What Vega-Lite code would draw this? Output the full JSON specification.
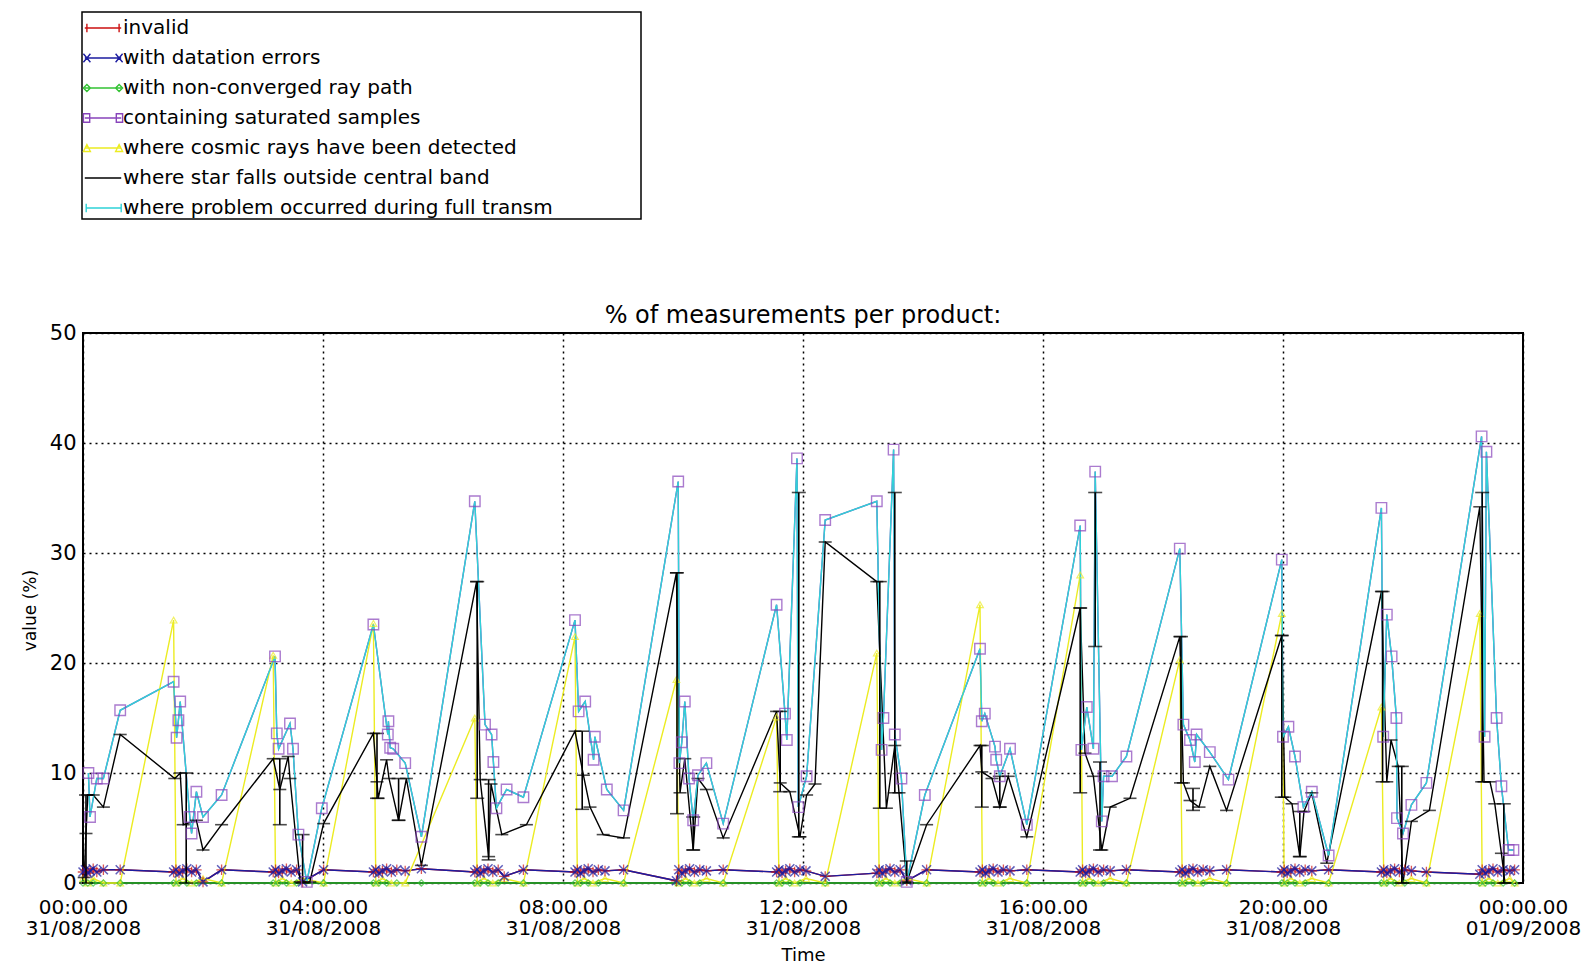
{
"$schema": "https://vega.github.io/schema/vega-lite/v6.json",
"width": 1440, "height": 550,
"autosize": {"type": "none"},
"padding": {"left": 83, "top": 333, "right": 71, "bottom": 84},
"background": "white",
"config": {"view": {"stroke": "black", "strokeWidth": 2}, "font": "DejaVu Sans"},
"title": {"text": "% of measurements per product:", "fontSize": 24, "fontWeight": "normal", "font": "DejaVu Sans", "color": "black", "offset": 8, "anchor": "middle", "frame": "group", "dy": 325},
"datasets": {
"main": [
{"s":"inv","t":0.00,"v":1.0},{"s":"inv","t":0.04,"v":1.2},{"s":"inv","t":0.08,"v":0.9},{"s":"inv","t":0.12,"v":1.1},{"s":"inv","t":0.17,"v":1.3},{"s":"inv","t":0.23,"v":1.0},{"s":"inv","t":0.34,"v":1.2},{"s":"inv","t":0.62,"v":1.2},
{"s":"inv","t":1.51,"v":1.0},{"s":"inv","t":1.55,"v":1.2},{"s":"inv","t":1.60,"v":0.9},{"s":"inv","t":1.66,"v":1.1},{"s":"inv","t":1.73,"v":1.3},{"s":"inv","t":1.81,"v":1.0},{"s":"inv","t":1.89,"v":1.2},{"s":"inv","t":2.00,"v":0.1},{"s":"inv","t":2.31,"v":1.2},
{"s":"inv","t":3.17,"v":1.0},{"s":"inv","t":3.21,"v":1.2},{"s":"inv","t":3.26,"v":0.9},{"s":"inv","t":3.32,"v":1.1},{"s":"inv","t":3.39,"v":1.3},{"s":"inv","t":3.47,"v":1.0},{"s":"inv","t":3.56,"v":1.2},{"s":"inv","t":3.66,"v":0.1},{"s":"inv","t":4.01,"v":1.2},
{"s":"inv","t":4.84,"v":1.0},{"s":"inv","t":4.88,"v":1.2},{"s":"inv","t":4.93,"v":0.9},{"s":"inv","t":4.99,"v":1.1},{"s":"inv","t":5.06,"v":1.3},{"s":"inv","t":5.14,"v":1.0},{"s":"inv","t":5.23,"v":1.2},{"s":"inv","t":5.37,"v":1.1},{"s":"inv","t":5.64,"v":1.3},
{"s":"inv","t":6.53,"v":1.0},{"s":"inv","t":6.57,"v":1.2},{"s":"inv","t":6.62,"v":0.9},{"s":"inv","t":6.68,"v":1.1},{"s":"inv","t":6.75,"v":1.3},{"s":"inv","t":6.83,"v":1.0},{"s":"inv","t":6.92,"v":1.2},{"s":"inv","t":7.02,"v":0.6},{"s":"inv","t":7.34,"v":1.2},
{"s":"inv","t":8.20,"v":1.0},{"s":"inv","t":8.24,"v":1.2},{"s":"inv","t":8.29,"v":0.9},{"s":"inv","t":8.35,"v":1.1},{"s":"inv","t":8.42,"v":1.3},{"s":"inv","t":8.50,"v":1.0},{"s":"inv","t":8.59,"v":1.2},{"s":"inv","t":8.70,"v":1.1},{"s":"inv","t":9.01,"v":1.2},
{"s":"inv","t":9.89,"v":0.2},{"s":"inv","t":9.93,"v":1.2},{"s":"inv","t":9.98,"v":0.9},{"s":"inv","t":10.04,"v":1.1},{"s":"inv","t":10.11,"v":1.3},{"s":"inv","t":10.19,"v":1.0},{"s":"inv","t":10.28,"v":1.2},{"s":"inv","t":10.39,"v":1.1},{"s":"inv","t":10.67,"v":1.2},
{"s":"inv","t":11.56,"v":1.0},{"s":"inv","t":11.60,"v":1.2},{"s":"inv","t":11.65,"v":0.9},{"s":"inv","t":11.71,"v":1.1},{"s":"inv","t":11.78,"v":1.3},{"s":"inv","t":11.86,"v":1.0},{"s":"inv","t":11.95,"v":1.2},{"s":"inv","t":12.05,"v":1.1},{"s":"inv","t":12.37,"v":0.6},
{"s":"inv","t":13.23,"v":0.9},{"s":"inv","t":13.27,"v":1.2},{"s":"inv","t":13.32,"v":0.9},{"s":"inv","t":13.38,"v":1.1},{"s":"inv","t":13.45,"v":1.3},{"s":"inv","t":13.53,"v":1.0},{"s":"inv","t":13.62,"v":1.2},{"s":"inv","t":13.73,"v":0.2},{"s":"inv","t":14.06,"v":1.2},
{"s":"inv","t":14.95,"v":1.0},{"s":"inv","t":14.99,"v":1.2},{"s":"inv","t":15.04,"v":0.9},{"s":"inv","t":15.10,"v":1.1},{"s":"inv","t":15.17,"v":1.3},{"s":"inv","t":15.25,"v":1.0},{"s":"inv","t":15.34,"v":1.2},{"s":"inv","t":15.45,"v":1.1},{"s":"inv","t":15.73,"v":1.2},
{"s":"inv","t":16.62,"v":1.0},{"s":"inv","t":16.66,"v":1.2},{"s":"inv","t":16.71,"v":0.9},{"s":"inv","t":16.77,"v":1.1},{"s":"inv","t":16.84,"v":1.3},{"s":"inv","t":16.92,"v":1.0},{"s":"inv","t":17.01,"v":1.2},{"s":"inv","t":17.12,"v":1.1},{"s":"inv","t":17.39,"v":1.2},
{"s":"inv","t":18.28,"v":1.0},{"s":"inv","t":18.32,"v":1.2},{"s":"inv","t":18.37,"v":0.9},{"s":"inv","t":18.43,"v":1.1},{"s":"inv","t":18.50,"v":1.3},{"s":"inv","t":18.58,"v":1.0},{"s":"inv","t":18.67,"v":1.2},{"s":"inv","t":18.78,"v":1.1},{"s":"inv","t":19.06,"v":1.2},
{"s":"inv","t":19.98,"v":1.0},{"s":"inv","t":20.02,"v":1.2},{"s":"inv","t":20.07,"v":0.9},{"s":"inv","t":20.13,"v":1.1},{"s":"inv","t":20.20,"v":1.3},{"s":"inv","t":20.28,"v":1.0},{"s":"inv","t":20.37,"v":1.2},{"s":"inv","t":20.48,"v":1.1},{"s":"inv","t":20.76,"v":1.2},
{"s":"inv","t":21.64,"v":1.0},{"s":"inv","t":21.68,"v":1.2},{"s":"inv","t":21.73,"v":0.9},{"s":"inv","t":21.79,"v":1.1},{"s":"inv","t":21.86,"v":1.3},{"s":"inv","t":21.94,"v":1.0},{"s":"inv","t":22.03,"v":1.2},{"s":"inv","t":22.14,"v":1.1},{"s":"inv","t":22.39,"v":1.0},
{"s":"inv","t":23.28,"v":0.8},{"s":"inv","t":23.32,"v":1.2},{"s":"inv","t":23.37,"v":0.9},{"s":"inv","t":23.43,"v":1.1},{"s":"inv","t":23.50,"v":1.3},{"s":"inv","t":23.58,"v":1.0},{"s":"inv","t":23.67,"v":1.2},{"s":"inv","t":23.78,"v":1.1},{"s":"inv","t":23.86,"v":1.2},
{"s":"dat","t":0.00,"v":1.0},{"s":"dat","t":0.04,"v":1.2},{"s":"dat","t":0.08,"v":0.9},{"s":"dat","t":0.12,"v":1.1},{"s":"dat","t":0.17,"v":1.3},{"s":"dat","t":0.23,"v":1.0},{"s":"dat","t":0.34,"v":1.2},{"s":"dat","t":0.62,"v":1.2},
{"s":"dat","t":1.51,"v":1.0},{"s":"dat","t":1.55,"v":1.2},{"s":"dat","t":1.60,"v":0.9},{"s":"dat","t":1.66,"v":1.1},{"s":"dat","t":1.73,"v":1.3},{"s":"dat","t":1.81,"v":1.0},{"s":"dat","t":1.89,"v":1.2},{"s":"dat","t":2.00,"v":0.1},{"s":"dat","t":2.31,"v":1.2},
{"s":"dat","t":3.17,"v":1.0},{"s":"dat","t":3.21,"v":1.2},{"s":"dat","t":3.26,"v":0.9},{"s":"dat","t":3.32,"v":1.1},{"s":"dat","t":3.39,"v":1.3},{"s":"dat","t":3.47,"v":1.0},{"s":"dat","t":3.56,"v":1.2},{"s":"dat","t":3.66,"v":0.1},{"s":"dat","t":4.01,"v":1.2},
{"s":"dat","t":4.84,"v":1.0},{"s":"dat","t":4.88,"v":1.2},{"s":"dat","t":4.93,"v":0.9},{"s":"dat","t":4.99,"v":1.1},{"s":"dat","t":5.06,"v":1.3},{"s":"dat","t":5.14,"v":1.0},{"s":"dat","t":5.23,"v":1.2},{"s":"dat","t":5.37,"v":1.1},{"s":"dat","t":5.64,"v":1.3},
{"s":"dat","t":6.53,"v":1.0},{"s":"dat","t":6.57,"v":1.2},{"s":"dat","t":6.62,"v":0.9},{"s":"dat","t":6.68,"v":1.1},{"s":"dat","t":6.75,"v":1.3},{"s":"dat","t":6.83,"v":1.0},{"s":"dat","t":6.92,"v":1.2},{"s":"dat","t":7.02,"v":0.6},{"s":"dat","t":7.34,"v":1.2},
{"s":"dat","t":8.20,"v":1.0},{"s":"dat","t":8.24,"v":1.2},{"s":"dat","t":8.29,"v":0.9},{"s":"dat","t":8.35,"v":1.1},{"s":"dat","t":8.42,"v":1.3},{"s":"dat","t":8.50,"v":1.0},{"s":"dat","t":8.59,"v":1.2},{"s":"dat","t":8.70,"v":1.1},{"s":"dat","t":9.01,"v":1.2},
{"s":"dat","t":9.89,"v":0.2},{"s":"dat","t":9.93,"v":1.2},{"s":"dat","t":9.98,"v":0.9},{"s":"dat","t":10.04,"v":1.1},{"s":"dat","t":10.11,"v":1.3},{"s":"dat","t":10.19,"v":1.0},{"s":"dat","t":10.28,"v":1.2},{"s":"dat","t":10.39,"v":1.1},{"s":"dat","t":10.67,"v":1.2},
{"s":"dat","t":11.56,"v":1.0},{"s":"dat","t":11.60,"v":1.2},{"s":"dat","t":11.65,"v":0.9},{"s":"dat","t":11.71,"v":1.1},{"s":"dat","t":11.78,"v":1.3},{"s":"dat","t":11.86,"v":1.0},{"s":"dat","t":11.95,"v":1.2},{"s":"dat","t":12.05,"v":1.1},{"s":"dat","t":12.37,"v":0.6},
{"s":"dat","t":13.23,"v":0.9},{"s":"dat","t":13.27,"v":1.2},{"s":"dat","t":13.32,"v":0.9},{"s":"dat","t":13.38,"v":1.1},{"s":"dat","t":13.45,"v":1.3},{"s":"dat","t":13.53,"v":1.0},{"s":"dat","t":13.62,"v":1.2},{"s":"dat","t":13.73,"v":0.2},{"s":"dat","t":14.06,"v":1.2},
{"s":"dat","t":14.95,"v":1.0},{"s":"dat","t":14.99,"v":1.2},{"s":"dat","t":15.04,"v":0.9},{"s":"dat","t":15.10,"v":1.1},{"s":"dat","t":15.17,"v":1.3},{"s":"dat","t":15.25,"v":1.0},{"s":"dat","t":15.34,"v":1.2},{"s":"dat","t":15.45,"v":1.1},{"s":"dat","t":15.73,"v":1.2},
{"s":"dat","t":16.62,"v":1.0},{"s":"dat","t":16.66,"v":1.2},{"s":"dat","t":16.71,"v":0.9},{"s":"dat","t":16.77,"v":1.1},{"s":"dat","t":16.84,"v":1.3},{"s":"dat","t":16.92,"v":1.0},{"s":"dat","t":17.01,"v":1.2},{"s":"dat","t":17.12,"v":1.1},{"s":"dat","t":17.39,"v":1.2},
{"s":"dat","t":18.28,"v":1.0},{"s":"dat","t":18.32,"v":1.2},{"s":"dat","t":18.37,"v":0.9},{"s":"dat","t":18.43,"v":1.1},{"s":"dat","t":18.50,"v":1.3},{"s":"dat","t":18.58,"v":1.0},{"s":"dat","t":18.67,"v":1.2},{"s":"dat","t":18.78,"v":1.1},{"s":"dat","t":19.06,"v":1.2},
{"s":"dat","t":19.98,"v":1.0},{"s":"dat","t":20.02,"v":1.2},{"s":"dat","t":20.07,"v":0.9},{"s":"dat","t":20.13,"v":1.1},{"s":"dat","t":20.20,"v":1.3},{"s":"dat","t":20.28,"v":1.0},{"s":"dat","t":20.37,"v":1.2},{"s":"dat","t":20.48,"v":1.1},{"s":"dat","t":20.76,"v":1.2},
{"s":"dat","t":21.64,"v":1.0},{"s":"dat","t":21.68,"v":1.2},{"s":"dat","t":21.73,"v":0.9},{"s":"dat","t":21.79,"v":1.1},{"s":"dat","t":21.86,"v":1.3},{"s":"dat","t":21.94,"v":1.0},{"s":"dat","t":22.03,"v":1.2},{"s":"dat","t":22.14,"v":1.1},{"s":"dat","t":22.39,"v":1.0},
{"s":"dat","t":23.28,"v":0.8},{"s":"dat","t":23.32,"v":1.2},{"s":"dat","t":23.37,"v":0.9},{"s":"dat","t":23.43,"v":1.1},{"s":"dat","t":23.50,"v":1.3},{"s":"dat","t":23.58,"v":1.0},{"s":"dat","t":23.67,"v":1.2},{"s":"dat","t":23.78,"v":1.1},{"s":"dat","t":23.86,"v":1.2},
{"s":"nc","t":0.00,"v":0},{"s":"nc","t":0.08,"v":0},{"s":"nc","t":0.17,"v":0},{"s":"nc","t":0.34,"v":0},{"s":"nc","t":0.62,"v":0},
{"s":"nc","t":1.51,"v":0},{"s":"nc","t":1.60,"v":0},{"s":"nc","t":1.73,"v":0},{"s":"nc","t":1.89,"v":0},{"s":"nc","t":2.31,"v":0},
{"s":"nc","t":3.17,"v":0},{"s":"nc","t":3.26,"v":0},{"s":"nc","t":3.39,"v":0},{"s":"nc","t":3.56,"v":0},{"s":"nc","t":4.01,"v":0},
{"s":"nc","t":4.84,"v":0},{"s":"nc","t":4.93,"v":0},{"s":"nc","t":5.06,"v":0},{"s":"nc","t":5.23,"v":0},{"s":"nc","t":5.64,"v":0},
{"s":"nc","t":6.53,"v":0},{"s":"nc","t":6.62,"v":0},{"s":"nc","t":6.75,"v":0},{"s":"nc","t":6.92,"v":0},{"s":"nc","t":7.34,"v":0},
{"s":"nc","t":8.20,"v":0},{"s":"nc","t":8.29,"v":0},{"s":"nc","t":8.42,"v":0},{"s":"nc","t":8.59,"v":0},{"s":"nc","t":9.01,"v":0},
{"s":"nc","t":9.89,"v":0},{"s":"nc","t":9.98,"v":0},{"s":"nc","t":10.11,"v":0},{"s":"nc","t":10.28,"v":0},{"s":"nc","t":10.67,"v":0},
{"s":"nc","t":11.56,"v":0},{"s":"nc","t":11.65,"v":0},{"s":"nc","t":11.78,"v":0},{"s":"nc","t":11.95,"v":0},{"s":"nc","t":12.37,"v":0},
{"s":"nc","t":13.23,"v":0},{"s":"nc","t":13.32,"v":0},{"s":"nc","t":13.45,"v":0},{"s":"nc","t":13.62,"v":0},{"s":"nc","t":14.06,"v":0},
{"s":"nc","t":14.95,"v":0},{"s":"nc","t":15.04,"v":0},{"s":"nc","t":15.17,"v":0},{"s":"nc","t":15.34,"v":0},{"s":"nc","t":15.73,"v":0},
{"s":"nc","t":16.62,"v":0},{"s":"nc","t":16.71,"v":0},{"s":"nc","t":16.84,"v":0},{"s":"nc","t":17.01,"v":0},{"s":"nc","t":17.39,"v":0},
{"s":"nc","t":18.28,"v":0},{"s":"nc","t":18.37,"v":0},{"s":"nc","t":18.50,"v":0},{"s":"nc","t":18.67,"v":0},{"s":"nc","t":19.06,"v":0},
{"s":"nc","t":19.98,"v":0},{"s":"nc","t":20.07,"v":0},{"s":"nc","t":20.20,"v":0},{"s":"nc","t":20.37,"v":0},{"s":"nc","t":20.76,"v":0},
{"s":"nc","t":21.64,"v":0},{"s":"nc","t":21.73,"v":0},{"s":"nc","t":21.86,"v":0},{"s":"nc","t":22.03,"v":0},{"s":"nc","t":22.39,"v":0},
{"s":"nc","t":23.28,"v":0},{"s":"nc","t":23.37,"v":0},{"s":"nc","t":23.50,"v":0},{"s":"nc","t":23.67,"v":0},{"s":"nc","t":23.86,"v":0},
{"s":"sat","t":0.09,"v":10.0},{"s":"sat","t":0.117,"v":6.0},{"s":"sat","t":0.23,"v":9.5},{"s":"sat","t":0.34,"v":9.5},{"s":"sat","t":0.62,"v":15.7},
{"s":"sat","t":1.51,"v":18.3},{"s":"sat","t":1.56,"v":13.2},{"s":"sat","t":1.59,"v":14.8},{"s":"sat","t":1.62,"v":16.5},{"s":"sat","t":1.78,"v":6.0},{"s":"sat","t":1.81,"v":4.5},{"s":"sat","t":1.89,"v":8.3},{"s":"sat","t":2.0,"v":6.0},{"s":"sat","t":2.31,"v":8.0},
{"s":"sat","t":3.2,"v":20.6},{"s":"sat","t":3.23,"v":13.6},{"s":"sat","t":3.26,"v":12.2},{"s":"sat","t":3.45,"v":14.5},{"s":"sat","t":3.5,"v":12.2},{"s":"sat","t":3.59,"v":4.4},{"s":"sat","t":3.73,"v":0.1},{"s":"sat","t":3.98,"v":6.8},
{"s":"sat","t":4.84,"v":23.5},{"s":"sat","t":5.08,"v":13.5},{"s":"sat","t":5.09,"v":14.7},{"s":"sat","t":5.12,"v":12.3},{"s":"sat","t":5.17,"v":12.2},{"s":"sat","t":5.37,"v":10.9},{"s":"sat","t":5.64,"v":4.2},
{"s":"sat","t":6.53,"v":34.7},{"s":"sat","t":6.7,"v":14.4},{"s":"sat","t":6.81,"v":13.5},{"s":"sat","t":6.84,"v":11.0},{"s":"sat","t":6.89,"v":6.8},{"s":"sat","t":7.06,"v":8.5},{"s":"sat","t":7.34,"v":7.8},
{"s":"sat","t":8.2,"v":23.9},{"s":"sat","t":8.26,"v":15.6},{"s":"sat","t":8.37,"v":16.5},{"s":"sat","t":8.51,"v":11.2},{"s":"sat","t":8.53,"v":13.3},{"s":"sat","t":8.73,"v":8.5},{"s":"sat","t":9.01,"v":6.6},
{"s":"sat","t":9.92,"v":36.5},{"s":"sat","t":9.94,"v":10.9},{"s":"sat","t":9.98,"v":12.8},{"s":"sat","t":10.03,"v":16.5},{"s":"sat","t":10.1,"v":9.5},{"s":"sat","t":10.17,"v":5.7},{"s":"sat","t":10.25,"v":9.8},{"s":"sat","t":10.39,"v":10.9},{"s":"sat","t":10.67,"v":5.4},
{"s":"sat","t":11.56,"v":25.3},{"s":"sat","t":11.7,"v":15.4},{"s":"sat","t":11.73,"v":13.0},{"s":"sat","t":11.9,"v":38.6},{"s":"sat","t":11.92,"v":6.9},{"s":"sat","t":12.06,"v":9.7},{"s":"sat","t":12.37,"v":33.0},
{"s":"sat","t":13.23,"v":34.7},{"s":"sat","t":13.31,"v":12.1},{"s":"sat","t":13.34,"v":15.0},{"s":"sat","t":13.51,"v":39.4},{"s":"sat","t":13.53,"v":13.5},{"s":"sat","t":13.64,"v":9.5},{"s":"sat","t":13.73,"v":0.1},{"s":"sat","t":14.03,"v":8.0},
{"s":"sat","t":14.95,"v":21.3},{"s":"sat","t":14.98,"v":14.7},{"s":"sat","t":15.03,"v":15.4},{"s":"sat","t":15.2,"v":12.4},{"s":"sat","t":15.22,"v":11.2},{"s":"sat","t":15.28,"v":9.7},{"s":"sat","t":15.45,"v":12.2},{"s":"sat","t":15.73,"v":5.3},
{"s":"sat","t":16.62,"v":32.5},{"s":"sat","t":16.64,"v":12.1},{"s":"sat","t":16.73,"v":16.0},{"s":"sat","t":16.84,"v":12.2},{"s":"sat","t":16.87,"v":37.4},{"s":"sat","t":16.98,"v":5.6},{"s":"sat","t":17.01,"v":9.7},{"s":"sat","t":17.15,"v":9.7},{"s":"sat","t":17.39,"v":11.5},
{"s":"sat","t":18.28,"v":30.4},{"s":"sat","t":18.34,"v":14.4},{"s":"sat","t":18.45,"v":13.0},{"s":"sat","t":18.53,"v":11.0},{"s":"sat","t":18.56,"v":13.5},{"s":"sat","t":18.78,"v":11.9},{"s":"sat","t":19.09,"v":9.4},
{"s":"sat","t":19.98,"v":29.4},{"s":"sat","t":20.0,"v":13.3},{"s":"sat","t":20.09,"v":14.2},{"s":"sat","t":20.2,"v":11.5},{"s":"sat","t":20.34,"v":6.9},{"s":"sat","t":20.48,"v":8.3},{"s":"sat","t":20.76,"v":2.5},
{"s":"sat","t":21.64,"v":34.1},{"s":"sat","t":21.67,"v":13.3},{"s":"sat","t":21.73,"v":24.4},{"s":"sat","t":21.81,"v":20.6},{"s":"sat","t":21.89,"v":15.0},{"s":"sat","t":21.9,"v":5.9},{"s":"sat","t":22.0,"v":4.5},{"s":"sat","t":22.14,"v":7.1},{"s":"sat","t":22.39,"v":9.1},
{"s":"sat","t":23.31,"v":40.6},{"s":"sat","t":23.36,"v":13.3},{"s":"sat","t":23.39,"v":39.2},{"s":"sat","t":23.56,"v":15.0},{"s":"sat","t":23.64,"v":8.8},{"s":"sat","t":23.76,"v":3.0},{"s":"sat","t":23.84,"v":3.0},
{"s":"cos","t":0.00,"v":0.4},{"s":"cos","t":0.08,"v":0},{"s":"cos","t":0.17,"v":0.4},{"s":"cos","t":0.34,"v":0},{"s":"cos","t":0.62,"v":0},
{"s":"cos","t":1.51,"v":23.9},{"s":"cos","t":1.55,"v":0},{"s":"cos","t":1.66,"v":0.4},{"s":"cos","t":1.81,"v":0},{"s":"cos","t":2.00,"v":0.4},{"s":"cos","t":2.31,"v":0},
{"s":"cos","t":3.17,"v":20.7},{"s":"cos","t":3.21,"v":0},{"s":"cos","t":3.32,"v":0.4},{"s":"cos","t":3.47,"v":0},{"s":"cos","t":3.66,"v":0.4},{"s":"cos","t":4.01,"v":0},
{"s":"cos","t":4.84,"v":23.6},{"s":"cos","t":4.88,"v":0},{"s":"cos","t":4.99,"v":0.4},{"s":"cos","t":5.14,"v":0},{"s":"cos","t":5.37,"v":0},
{"s":"cos","t":6.53,"v":15.0},{"s":"cos","t":6.57,"v":0},{"s":"cos","t":6.68,"v":0.4},{"s":"cos","t":6.83,"v":0},{"s":"cos","t":7.02,"v":0.4},{"s":"cos","t":7.34,"v":0},
{"s":"cos","t":8.20,"v":22.4},{"s":"cos","t":8.24,"v":0},{"s":"cos","t":8.35,"v":0.4},{"s":"cos","t":8.50,"v":0},{"s":"cos","t":8.70,"v":0.4},{"s":"cos","t":9.01,"v":0},
{"s":"cos","t":9.89,"v":18.5},{"s":"cos","t":9.93,"v":0},{"s":"cos","t":10.04,"v":0.4},{"s":"cos","t":10.19,"v":0},{"s":"cos","t":10.39,"v":0.4},{"s":"cos","t":10.67,"v":0},
{"s":"cos","t":11.56,"v":15.1},{"s":"cos","t":11.60,"v":0},{"s":"cos","t":11.71,"v":0.4},{"s":"cos","t":11.86,"v":0},{"s":"cos","t":12.05,"v":0.4},{"s":"cos","t":12.37,"v":0},
{"s":"cos","t":13.23,"v":20.9},{"s":"cos","t":13.27,"v":0},{"s":"cos","t":13.38,"v":0.4},{"s":"cos","t":13.53,"v":0},{"s":"cos","t":13.73,"v":0.4},{"s":"cos","t":14.06,"v":0},
{"s":"cos","t":14.95,"v":25.3},{"s":"cos","t":14.99,"v":0},{"s":"cos","t":15.10,"v":0.4},{"s":"cos","t":15.25,"v":0},{"s":"cos","t":15.45,"v":0.4},{"s":"cos","t":15.73,"v":0},
{"s":"cos","t":16.62,"v":28.0},{"s":"cos","t":16.66,"v":0},{"s":"cos","t":16.77,"v":0.4},{"s":"cos","t":16.92,"v":0},{"s":"cos","t":17.12,"v":0.4},{"s":"cos","t":17.39,"v":0},
{"s":"cos","t":18.28,"v":20.3},{"s":"cos","t":18.32,"v":0},{"s":"cos","t":18.43,"v":0.4},{"s":"cos","t":18.58,"v":0},{"s":"cos","t":18.78,"v":0.4},{"s":"cos","t":19.06,"v":0},
{"s":"cos","t":19.98,"v":24.5},{"s":"cos","t":20.02,"v":0},{"s":"cos","t":20.13,"v":0.4},{"s":"cos","t":20.28,"v":0},{"s":"cos","t":20.48,"v":0.4},{"s":"cos","t":20.76,"v":0},
{"s":"cos","t":21.64,"v":16.0},{"s":"cos","t":21.68,"v":0},{"s":"cos","t":21.79,"v":0.4},{"s":"cos","t":21.94,"v":0},{"s":"cos","t":22.14,"v":0.4},{"s":"cos","t":22.39,"v":0},
{"s":"cos","t":23.28,"v":24.5},{"s":"cos","t":23.32,"v":0},{"s":"cos","t":23.43,"v":0.4},{"s":"cos","t":23.58,"v":0},{"s":"cos","t":23.78,"v":0.4},{"s":"cos","t":23.86,"v":0},
{"s":"star","t":0.02,"v":0.5},{"s":"star","t":0.05,"v":4.5},{"s":"star","t":0.08,"v":8.0},{"s":"star","t":0.17,"v":8.0},{"s":"star","t":0.34,"v":6.9},{"s":"star","t":0.62,"v":13.5},
{"s":"star","t":1.53,"v":9.5},{"s":"star","t":1.62,"v":10.0},{"s":"star","t":1.67,"v":5.3},{"s":"star","t":1.89,"v":5.7},{"s":"star","t":2.0,"v":3.0},{"s":"star","t":2.31,"v":5.3},
{"s":"star","t":3.17,"v":11.3},{"s":"star","t":3.28,"v":8.5},{"s":"star","t":3.42,"v":11.5},{"s":"star","t":3.45,"v":9.5},{"s":"star","t":3.62,"v":0.1},{"s":"star","t":3.78,"v":0.1},{"s":"star","t":4.01,"v":5.4},
{"s":"star","t":4.84,"v":13.6},{"s":"star","t":4.9,"v":9.2},{"s":"star","t":4.92,"v":7.7},{"s":"star","t":5.06,"v":11.2},{"s":"star","t":5.1,"v":9.5},{"s":"star","t":5.26,"v":5.7},{"s":"star","t":5.39,"v":9.5},{"s":"star","t":5.64,"v":1.6},
{"s":"star","t":6.56,"v":27.4},{"s":"star","t":6.62,"v":9.4},{"s":"star","t":6.76,"v":2.4},{"s":"star","t":6.8,"v":9.0},{"s":"star","t":6.98,"v":4.4},{"s":"star","t":7.39,"v":5.3},
{"s":"star","t":8.2,"v":13.8},{"s":"star","t":8.34,"v":9.8},{"s":"star","t":8.45,"v":6.9},{"s":"star","t":8.67,"v":4.4},{"s":"star","t":9.01,"v":4.1},
{"s":"star","t":9.89,"v":28.2},{"s":"star","t":9.95,"v":8.2},{"s":"star","t":10.03,"v":11.3},{"s":"star","t":10.17,"v":3.0},{"s":"star","t":10.25,"v":9.5},{"s":"star","t":10.39,"v":8.5},{"s":"star","t":10.67,"v":4.1},
{"s":"star","t":11.56,"v":15.6},{"s":"star","t":11.62,"v":9.1},{"s":"star","t":11.78,"v":8.3},{"s":"star","t":11.95,"v":4.2},{"s":"star","t":12.06,"v":8.0},{"s":"star","t":12.2,"v":9.0},{"s":"star","t":12.37,"v":31.0},
{"s":"star","t":13.23,"v":27.4},{"s":"star","t":13.39,"v":6.8},{"s":"star","t":13.53,"v":12.5},{"s":"star","t":13.6,"v":8.2},{"s":"star","t":13.73,"v":0.1},{"s":"star","t":14.06,"v":5.3},
{"s":"star","t":14.95,"v":12.5},{"s":"star","t":14.98,"v":10.1},{"s":"star","t":15.15,"v":9.5},{"s":"star","t":15.28,"v":6.9},{"s":"star","t":15.42,"v":9.7},{"s":"star","t":15.73,"v":4.2},
{"s":"star","t":16.62,"v":25.0},{"s":"star","t":16.7,"v":11.8},{"s":"star","t":16.84,"v":9.7},{"s":"star","t":16.98,"v":3.0},{"s":"star","t":17.12,"v":6.9},{"s":"star","t":17.45,"v":7.7},
{"s":"star","t":18.28,"v":22.4},{"s":"star","t":18.34,"v":9.1},{"s":"star","t":18.45,"v":7.5},{"s":"star","t":18.6,"v":6.9},{"s":"star","t":18.78,"v":10.6},{"s":"star","t":19.06,"v":6.6},
{"s":"star","t":19.98,"v":22.5},{"s":"star","t":20.03,"v":7.8},{"s":"star","t":20.15,"v":7.2},{"s":"star","t":20.28,"v":2.4},{"s":"star","t":20.35,"v":6.5},{"s":"star","t":20.48,"v":8.2},{"s":"star","t":20.73,"v":1.8},
{"s":"star","t":21.64,"v":26.5},{"s":"star","t":21.73,"v":9.2},{"s":"star","t":21.8,"v":13.0},{"s":"star","t":21.92,"v":10.6},{"s":"star","t":22.0,"v":0.0},{"s":"star","t":22.14,"v":5.6},{"s":"star","t":22.44,"v":6.6},
{"s":"star","t":23.28,"v":34.2},{"s":"star","t":23.35,"v":9.2},{"s":"star","t":23.45,"v":9.2},{"s":"star","t":23.53,"v":7.2},{"s":"star","t":23.64,"v":2.7},{"s":"star","t":23.7,"v":0.0},
{"s":"ftr","t":0.09,"v":10.0},{"s":"ftr","t":0.117,"v":6.0},{"s":"ftr","t":0.23,"v":9.5},{"s":"ftr","t":0.34,"v":9.5},{"s":"ftr","t":0.62,"v":15.7},
{"s":"ftr","t":1.51,"v":18.3},{"s":"ftr","t":1.56,"v":13.2},{"s":"ftr","t":1.59,"v":14.8},{"s":"ftr","t":1.62,"v":16.5},{"s":"ftr","t":1.78,"v":6.0},{"s":"ftr","t":1.81,"v":4.5},{"s":"ftr","t":1.89,"v":8.3},{"s":"ftr","t":2.0,"v":6.0},{"s":"ftr","t":2.31,"v":8.0},
{"s":"ftr","t":3.2,"v":20.6},{"s":"ftr","t":3.23,"v":13.6},{"s":"ftr","t":3.26,"v":12.2},{"s":"ftr","t":3.45,"v":14.5},{"s":"ftr","t":3.5,"v":12.2},{"s":"ftr","t":3.59,"v":4.4},{"s":"ftr","t":3.73,"v":0.1},{"s":"ftr","t":3.98,"v":6.8},
{"s":"ftr","t":4.84,"v":23.5},{"s":"ftr","t":5.08,"v":13.5},{"s":"ftr","t":5.09,"v":14.7},{"s":"ftr","t":5.12,"v":12.3},{"s":"ftr","t":5.17,"v":12.2},{"s":"ftr","t":5.37,"v":10.9},{"s":"ftr","t":5.64,"v":4.2},
{"s":"ftr","t":6.53,"v":34.7},{"s":"ftr","t":6.7,"v":14.4},{"s":"ftr","t":6.81,"v":13.5},{"s":"ftr","t":6.84,"v":11.0},{"s":"ftr","t":6.89,"v":6.8},{"s":"ftr","t":7.06,"v":8.5},{"s":"ftr","t":7.34,"v":7.8},
{"s":"ftr","t":8.2,"v":23.9},{"s":"ftr","t":8.26,"v":15.6},{"s":"ftr","t":8.37,"v":16.5},{"s":"ftr","t":8.51,"v":11.2},{"s":"ftr","t":8.53,"v":13.3},{"s":"ftr","t":8.73,"v":8.5},{"s":"ftr","t":9.01,"v":6.6},
{"s":"ftr","t":9.92,"v":36.5},{"s":"ftr","t":9.94,"v":10.9},{"s":"ftr","t":9.98,"v":12.8},{"s":"ftr","t":10.03,"v":16.5},{"s":"ftr","t":10.1,"v":9.5},{"s":"ftr","t":10.17,"v":5.7},{"s":"ftr","t":10.25,"v":9.8},{"s":"ftr","t":10.39,"v":10.9},{"s":"ftr","t":10.67,"v":5.4},
{"s":"ftr","t":11.56,"v":25.3},{"s":"ftr","t":11.7,"v":15.4},{"s":"ftr","t":11.73,"v":13.0},{"s":"ftr","t":11.9,"v":38.6},{"s":"ftr","t":11.92,"v":6.9},{"s":"ftr","t":12.06,"v":9.7},{"s":"ftr","t":12.37,"v":33.0},
{"s":"ftr","t":13.23,"v":34.7},{"s":"ftr","t":13.31,"v":12.1},{"s":"ftr","t":13.34,"v":15.0},{"s":"ftr","t":13.51,"v":39.4},{"s":"ftr","t":13.53,"v":13.5},{"s":"ftr","t":13.64,"v":9.5},{"s":"ftr","t":13.73,"v":0.1},{"s":"ftr","t":14.03,"v":8.0},
{"s":"ftr","t":14.95,"v":21.3},{"s":"ftr","t":14.98,"v":14.7},{"s":"ftr","t":15.03,"v":15.4},{"s":"ftr","t":15.2,"v":12.4},{"s":"ftr","t":15.22,"v":11.2},{"s":"ftr","t":15.28,"v":9.7},{"s":"ftr","t":15.45,"v":12.2},{"s":"ftr","t":15.73,"v":5.3},
{"s":"ftr","t":16.62,"v":32.5},{"s":"ftr","t":16.64,"v":12.1},{"s":"ftr","t":16.73,"v":16.0},{"s":"ftr","t":16.84,"v":12.2},{"s":"ftr","t":16.87,"v":37.4},{"s":"ftr","t":16.98,"v":5.6},{"s":"ftr","t":17.01,"v":9.7},{"s":"ftr","t":17.15,"v":9.7},{"s":"ftr","t":17.39,"v":11.5},
{"s":"ftr","t":18.28,"v":30.4},{"s":"ftr","t":18.34,"v":14.4},{"s":"ftr","t":18.45,"v":13.0},{"s":"ftr","t":18.53,"v":11.0},{"s":"ftr","t":18.56,"v":13.5},{"s":"ftr","t":18.78,"v":11.9},{"s":"ftr","t":19.09,"v":9.4},
{"s":"ftr","t":19.98,"v":29.4},{"s":"ftr","t":20.0,"v":13.3},{"s":"ftr","t":20.09,"v":14.2},{"s":"ftr","t":20.2,"v":11.5},{"s":"ftr","t":20.34,"v":6.9},{"s":"ftr","t":20.48,"v":8.3},{"s":"ftr","t":20.76,"v":2.5},
{"s":"ftr","t":21.64,"v":34.1},{"s":"ftr","t":21.67,"v":13.3},{"s":"ftr","t":21.73,"v":24.4},{"s":"ftr","t":21.81,"v":20.6},{"s":"ftr","t":21.89,"v":15.0},{"s":"ftr","t":21.9,"v":5.9},{"s":"ftr","t":22.0,"v":4.5},{"s":"ftr","t":22.14,"v":7.1},{"s":"ftr","t":22.39,"v":9.1},
{"s":"ftr","t":23.31,"v":40.6},{"s":"ftr","t":23.36,"v":13.3},{"s":"ftr","t":23.39,"v":39.2},{"s":"ftr","t":23.56,"v":15.0},{"s":"ftr","t":23.64,"v":8.8},{"s":"ftr","t":23.76,"v":3.0},{"s":"ftr","t":23.84,"v":3.0}
],
"eb": [
{"t":0.05,"v":0,"hi":8.0},{"t":1.72,"v":0,"hi":10.0},{"t":3.28,"v":5.3,"hi":11.3},{"t":3.66,"v":0,"hi":4.4},{"t":4.9,"v":7.7,"hi":13.6},{"t":5.26,"v":5.7,"hi":9.5},
{"t":6.57,"v":7.7,"hi":27.4},{"t":6.76,"v":2.1,"hi":9.4},{"t":8.32,"v":6.7,"hi":13.8},{"t":9.9,"v":6.3,"hi":28.2},{"t":10.17,"v":3.0,"hi":6.0},{"t":11.62,"v":8.3,"hi":15.6},
{"t":11.93,"v":4.2,"hi":35.5},{"t":13.28,"v":6.8,"hi":27.4},{"t":13.53,"v":8.2,"hi":35.5},{"t":13.73,"v":0,"hi":2.0},{"t":14.98,"v":6.9,"hi":12.5},{"t":15.28,"v":6.9,"hi":9.7},
{"t":16.62,"v":8.2,"hi":25.0},{"t":16.87,"v":21.5,"hi":35.5},{"t":16.95,"v":3.0,"hi":11.0},{"t":18.3,"v":9.1,"hi":22.4},{"t":18.5,"v":6.6,"hi":8.6},{"t":19.98,"v":7.8,"hi":22.5},
{"t":20.28,"v":2.4,"hi":6.5},{"t":21.66,"v":9.2,"hi":26.5},{"t":21.98,"v":0,"hi":10.6},{"t":23.32,"v":9.2,"hi":35.5},{"t":23.68,"v":0,"hi":7.2}
]
},
"data": {"name": "main"},
"encoding": {
  "x": {"field": "t", "type": "quantitative", "scale": {"domain": [0, 24], "nice": false, "zero": false},
    "axis": {"values": [0,4,8,12,16,20,24], "labelExpr": "datum.value == 24 ? ['00:00.00', '01/09/2008'] : [(datum.value < 10 ? '0' : '') + datum.value + ':00.00', '31/08/2008']",
      "labelFont": "DejaVu Sans", "labelFontSize": 20, "labelColor": "black", "labelBaseline": "top", "labelPadding": 14, "labelLineHeight": 21, "labelAlign": "center", "labelFlush": false, "labelOverlap": false,
      "ticks": false, "domain": false, "grid": true, "gridColor": "black", "gridDash": [2,4], "gridWidth": 1.5, "gridOpacity": 1,
      "title": "Time", "titleFont": "DejaVu Sans", "titleFontSize": 18, "titleFontWeight": "normal", "titleColor": "black", "titleY": 72, "titleBaseline": "middle"}},
  "y": {"field": "v", "type": "quantitative", "scale": {"domain": [0, 50], "nice": false},
    "axis": {"values": [0,10,20,30,40,50], "labelFont": "DejaVu Sans", "labelFontSize": 21, "labelColor": "black", "labelPadding": 7,
      "ticks": false, "domain": false, "grid": true, "gridColor": "black", "gridDash": [2,4], "gridWidth": 1.5, "gridOpacity": 1,
      "title": "value (%)", "titleFont": "DejaVu Sans", "titleFontSize": 17, "titleFontWeight": "normal", "titleColor": "black", "titleX": -53, "titleY": 277, "titleAlign": "center", "titleBaseline": "middle", "titleAngle": 270}}
},
"layer": [
  {"mark": {"type": "line", "strokeWidth": 1.4},
   "encoding": {"color": {"field": "s", "type": "nominal",
     "scale": {"domain": ["inv","dat","nc","sat","cos","star","ftr"], "range": ["#cc1111","#1c1ca0","#33c233","#8844bb","#ecec22","#000000","#2fd2d8"]},
     "legend": {"orient": "none", "legendX": -1, "legendY": -321, "title": "\u00a0", "titleOrient": "right", "titlePadding": 87, "titleFontSize": 10, "direction": "vertical",
       "symbolSize": 784, "symbolStrokeWidth": 1.4, "symbolFillColor": "transparent", "symbolOffset": 5, "labelOffset": 5,
       "labelFont": "DejaVu Sans", "labelFontSize": 20, "labelColor": "black", "rowPadding": 5, "padding": 1, "strokeColor": "black", "labelLimit": 800,
       "labelExpr": "datum.value === 'inv' ? 'invalid' : datum.value === 'dat' ? 'with datation errors' : datum.value === 'nc' ? 'with non-converged ray path' : datum.value === 'sat' ? 'containing saturated samples' : datum.value === 'cos' ? 'where cosmic rays have been detected' : datum.value === 'star' ? 'where star falls outside central band' : 'where problem occurred during full transm'",
       "encode": {"symbols": {"update": {"fill": {"value": "transparent"}, "shape": {"signal": "datum.value === 'inv' ? 'M-1.3,0H1.3M-1.15,-0.3V0.3M1.15,-0.3V0.3' : datum.value === 'dat' ? 'M-1.3,0H1.3M-1.4,-0.3L-0.9,0.3M-1.4,0.3L-0.9,-0.3M0.9,-0.3L1.4,0.3M0.9,0.3L1.4,-0.3' : datum.value === 'nc' ? 'M-1.3,0H1.3M-1.4,0L-1.15,-0.25L-0.9,0L-1.15,0.25ZM0.9,0L1.15,-0.25L1.4,0L1.15,0.25Z' : datum.value === 'sat' ? 'M-1.3,0H1.3M-1.4,-0.3H-0.95V0.3H-1.4ZM0.95,-0.3H1.4V0.3H0.95Z' : datum.value === 'cos' ? 'M-1.3,0H1.3M-1.4,0.25L-1.15,-0.25L-0.9,0.25ZM0.9,0.25L1.15,-0.25L1.4,0.25Z' : datum.value === 'star' ? 'M-1.3,0H1.3' : 'M-1.2,0H1.3M-1.2,-0.3V0.3M1.3,-0.3V0.3'"}}},
                  "legend": {"update": {"strokeWidth": {"value": 1.5}}}}}}}},
  {"transform": [{"filter": "datum.s === 'cos'"}], "mark": {"type": "point", "shape": "triangle-up", "size": 45, "filled": false, "color": "#ecec22", "strokeWidth": 1.2}},
  {"transform": [{"filter": "datum.s === 'nc'"}], "mark": {"type": "point", "shape": "diamond", "size": 40, "filled": false, "color": "#33c233", "strokeWidth": 1.2}},
  {"transform": [{"filter": "datum.s === 'inv'"}], "mark": {"type": "point", "shape": "M-1,0H1M0,-1V1", "size": 110, "filled": false, "color": "#cc1111", "strokeWidth": 1.3}},
  {"transform": [{"filter": "datum.s === 'dat'"}], "mark": {"type": "point", "shape": "M-1,-1L1,1M-1,1L1,-1", "size": 81, "filled": false, "color": "#1c1ca0", "strokeWidth": 1.5}},
  {"transform": [{"filter": "datum.s === 'star'"}], "mark": {"type": "point", "shape": "M-1,0H1", "size": 169, "filled": false, "color": "black", "strokeWidth": 1.6}},
  {"data": {"name": "eb"}, "mark": {"type": "errorbar", "color": "black", "thickness": 1.6, "ticks": {"size": 14, "thickness": 1.6, "color": "black"}},
   "encoding": {"x": {"field": "t", "type": "quantitative"}, "y": {"field": "v", "type": "quantitative", "title": "value (%)"}, "y2": {"field": "hi"}}},
  {"transform": [{"filter": "datum.s === 'sat'"}], "mark": {"type": "point", "shape": "square", "size": 110, "filled": false, "color": "#8844bb", "strokeWidth": 1.4}}
]
}
